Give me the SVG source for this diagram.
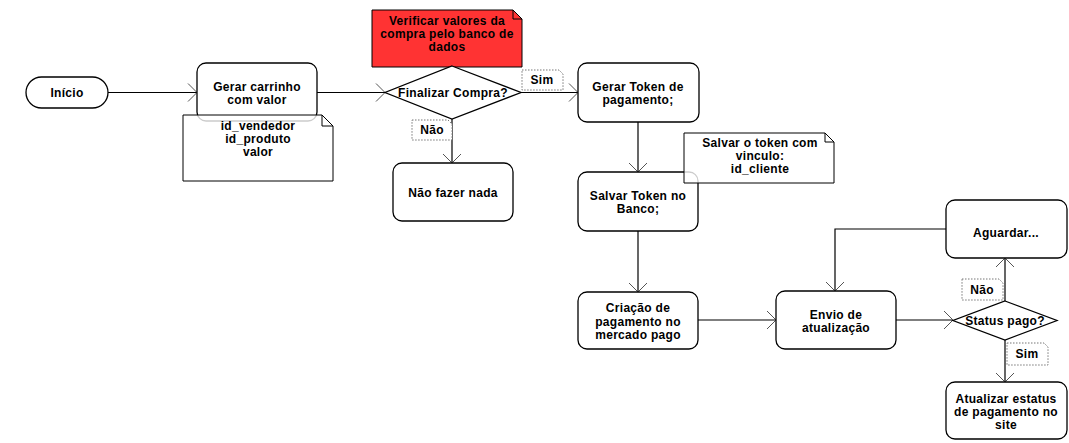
<svg xmlns="http://www.w3.org/2000/svg" width="1069" height="443" viewBox="0 0 1069 443">
<style>
.box{fill:#fff;stroke:#000;stroke-width:1.3}
.note{fill:#fff;fill-opacity:0.8;stroke:#000;stroke-width:1}
.red{fill:#ff3333;stroke:#000;stroke-width:1}
.fold{fill:none;stroke:#000;stroke-width:1}
.lbl{fill:#fff;stroke:#777;stroke-width:1;stroke-dasharray:1.5,1.5}
.conn{fill:none;stroke:#000;stroke-width:1.2}
text{font-family:"Liberation Sans",Arial,sans-serif;font-size:12px;font-weight:bold;text-anchor:middle;fill:#000;letter-spacing:0.3px}
</style>
<defs>
<marker id="arr" markerUnits="userSpaceOnUse" markerWidth="12" markerHeight="20" refX="10" refY="10" orient="auto">
<path d="M1,1 L10,10 L1,19" fill="none" stroke="#555" stroke-width="1"/>
</marker>
</defs>
<g id="connectors">
<path class="conn" d="M108,92.5 L197,92.5" marker-end="url(#arr)"/>
<path class="conn" d="M317,92.5 L385,92.5" marker-end="url(#arr)"/>
<path class="conn" d="M521,92.5 L578,92.5" marker-end="url(#arr)"/>
<path class="conn" d="M452,119 L452,163" marker-end="url(#arr)"/>
<path class="conn" d="M638,122 L638,172" marker-end="url(#arr)"/>
<path class="conn" d="M638,231 L638,292" marker-end="url(#arr)"/>
<path class="conn" d="M698,320 L776,320" marker-end="url(#arr)"/>
<path class="conn" d="M896,320 L953,320" marker-end="url(#arr)"/>
<path class="conn" d="M1005,301 L1005,258" marker-end="url(#arr)"/>
<path class="conn" d="M1005,340 L1005,382" marker-end="url(#arr)"/>
<path class="conn" d="M946,229 L835,229 L835,291" marker-end="url(#arr)"/>
</g>
<g id="inicio">
<rect class="box" x="26" y="77" width="82" height="31" rx="15.5"/>
<text x="67" y="97">Início</text>
</g>
<g id="gerar-carrinho">
<rect class="box" x="197" y="63" width="120" height="58" rx="9"/>
<text x="257" y="91">Gerar carrinho</text>
<text x="257" y="104">com valor</text>
</g>
<g id="note-carrinho">
<path class="note" d="M183,115 L322,115 L333,126 L333,181 L183,181 Z"/>
<path class="fold" d="M322,115 L322,126 L333,126"/>
<text x="258" y="130">id_vendedor</text>
<text x="258" y="143">id_produto</text>
<text x="258" y="156">valor</text>
</g>
<g id="note-verificar">
<path class="red" d="M372,10 L513,10 L522,19 L522,67 L372,67 Z"/>
<path class="fold" d="M513,10 L513,19 L522,19"/>
<text x="447" y="25">Verificar valores da</text>
<text x="447" y="38">compra pelo banco de</text>
<text x="447" y="51">dados</text>
</g>
<g id="finalizar">
<path class="box" d="M452,66 L521,92.5 L452,119 L385,92.5 Z"/>
<text x="453" y="97">Finalizar Compra?</text>
</g>
<g id="lbl-sim1">
<path class="lbl" d="M522,70 L559,70 L563,74 L563,90 L522,90 Z"/>
<text x="542" y="84">Sim</text>
</g>
<g id="lbl-nao1">
<path class="lbl" d="M412,120 L448,120 L452,124 L452,140 L412,140 Z"/>
<text x="432" y="134">Não</text>
</g>
<g id="nao-fazer">
<rect class="box" x="393" y="163" width="120" height="58" rx="9"/>
<text x="453" y="197">Não fazer nada</text>
</g>
<g id="gerar-token">
<rect class="box" x="578" y="63" width="121" height="59" rx="9"/>
<text x="638" y="91">Gerar Token de</text>
<text x="638" y="104">pagamento;</text>
</g>
<g id="salvar-token">
<rect class="box" x="578" y="172" width="120" height="59" rx="9"/>
<text x="638" y="200">Salvar Token no</text>
<text x="638" y="213">Banco;</text>
</g>
<g id="note-token">
<path class="note" d="M684,133 L825,133 L834,142 L834,183 L684,183 Z"/>
<path class="fold" d="M825,133 L825,142 L834,142"/>
<text x="760" y="147">Salvar o token com</text>
<text x="760" y="160">vinculo:</text>
<text x="760" y="173">id_cliente</text>
</g>
<g id="criacao">
<rect class="box" x="578" y="292" width="120" height="57" rx="9"/>
<text x="638" y="312">Criação de</text>
<text x="638" y="326">pagamento no</text>
<text x="638" y="339">mercado pago</text>
</g>
<g id="envio">
<rect class="box" x="776" y="291" width="120" height="58" rx="9"/>
<text x="836" y="319">Envio de</text>
<text x="836" y="332">atualização</text>
</g>
<g id="status">
<path class="box" d="M1005,301 L1057,320.5 L1005,340 L953,320.5 Z"/>
<text x="1005" y="325">Status pago?</text>
</g>
<g id="lbl-nao2">
<path class="lbl" d="M962,279 L999,279 L1003,283 L1003,300 L962,300 Z"/>
<text x="982" y="294">Não</text>
</g>
<g id="lbl-sim2">
<path class="lbl" d="M1007,343 L1044,343 L1048,347 L1048,365 L1007,365 Z"/>
<text x="1027" y="358">Sim</text>
</g>
<g id="aguardar">
<rect class="box" x="946" y="200" width="121" height="58" rx="9"/>
<text x="1006" y="237">Aguardar...</text>
</g>
<g id="atualizar">
<rect class="box" x="946" y="382" width="121" height="57" rx="9"/>
<text x="1006" y="403">Atualizar estatus</text>
<text x="1006" y="416">de pagamento no</text>
<text x="1006" y="429">site</text>
</g>
</svg>
